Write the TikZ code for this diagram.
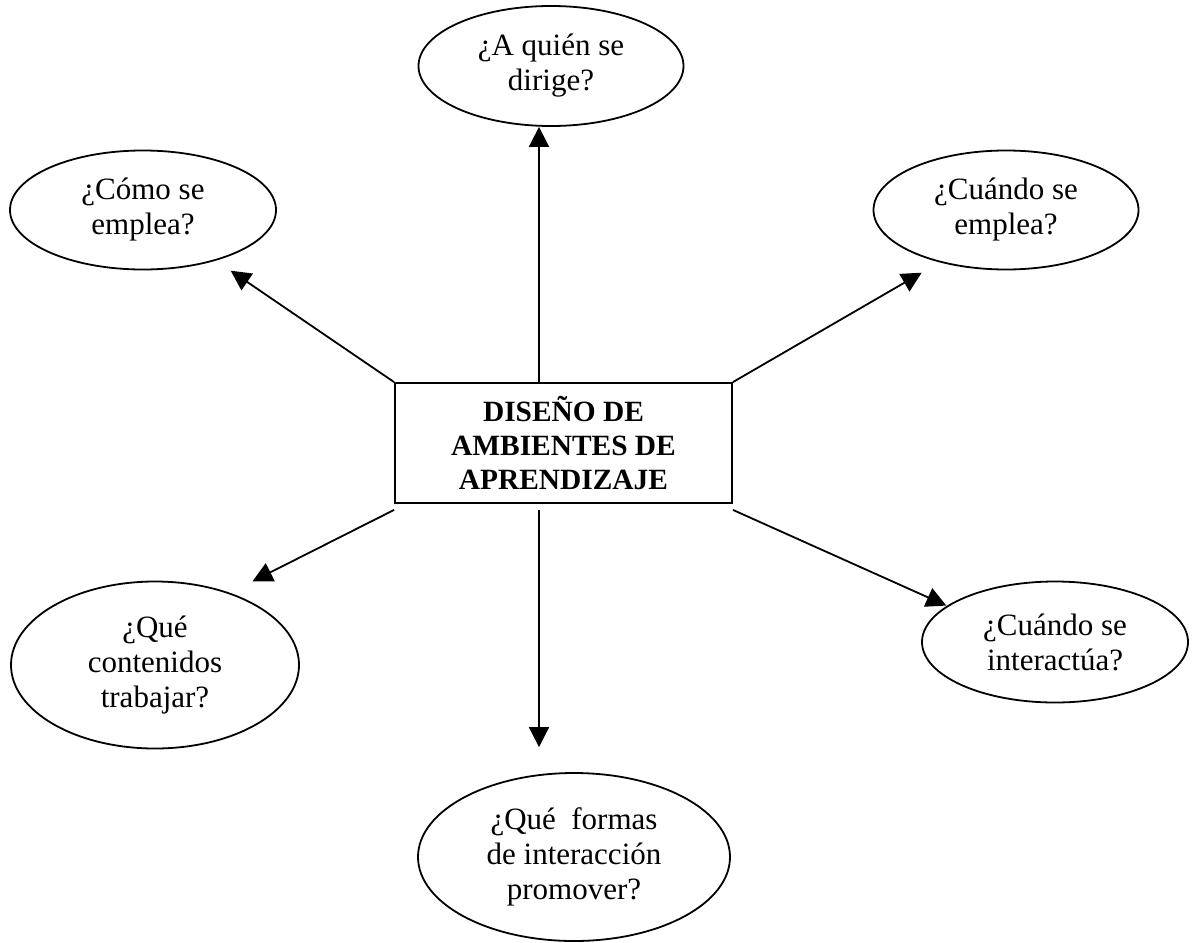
\documentclass[tikz,border=0pt]{standalone}
\usepackage{fontspec}
\setmainfont{Liberation Serif}
\usetikzlibrary{arrows.meta,shapes.geometric}

\begin{document}
\begin{tikzpicture}[%
      x=0.5pt, y=-0.5pt,
      every node/.style={align=center, inner sep=0pt,
                         font={\fontsize{15.5}{17.5}\selectfont}},
      root/.style={draw, rectangle, line width=0.9pt,
                   minimum width=168.5pt, minimum height=60pt,
                   font={\fontsize{14.7}{16.8}\selectfont\bfseries}},
      question/.style={draw, ellipse, line width=0.9pt,
                       execute at begin node={\rule{0pt}{20pt}}},
      link/.style={line width=0.9pt, -{Triangle[length=10pt,width=10pt]}}
    ]
    \path [use as bounding box, fill=white] (0,0) rectangle (1193,942);
    \node [root] (A root) at (563.5,443) {DISEÑO DE\\AMBIENTES DE\\APRENDIZAJE};
    \node [question, minimum width=132.5pt, minimum height=60pt]
      (A who) at (551,66) {¿A quién se\\dirige?};
    \node [question, minimum width=133pt, minimum height=59.5pt]
      (A how) at (143,210) {¿Cómo se\\emplea?};
    \node [question, minimum width=132.5pt, minimum height=59.5pt]
      (A when) at (1006,210) {¿Cuándo se\\emplea?};
    \node [question, minimum width=144pt, minimum height=83.5pt]
      (A what) at (155,665) {¿Qué\\contenidos\\trabajar?};
    \node [question, minimum width=133pt, minimum height=60.5pt]
      (A interact) at (1055,642) {¿Cuándo se\\interactúa?};
    \node [question, minimum width=156pt, minimum height=84pt]
      (A forms) at (574,857) {¿Qué\ \ formas\\de interacción\\promover?};
    \coordinate (A top) at ([xshift=-12.25pt]A root.north);
    \coordinate (A bottom) at ([xshift=-12.25pt,yshift=-3pt]A root.south);
    \draw [link] (A top) -- (A top |- A who.south);
    \draw [link] (A root.north west) -- ([shift={(-3.5pt,-9pt)}]A how.south east);
    \draw [link] (A root.north east) -- ([shift={(5pt,-10pt)}]A when.south west);
    \draw [link] ([yshift=-3pt]A root.south west) -- ([shift={(-2.5pt,12pt)}]A what.north east);
    \draw [link] ([yshift=-3pt]A root.south east) -- ([shift={(-7pt,-3.5pt)}]A interact.north west);
    \draw [link, shorten >=12.5pt] (A bottom) -- (A bottom |- A forms.north);
\end{tikzpicture}
\end{document}
